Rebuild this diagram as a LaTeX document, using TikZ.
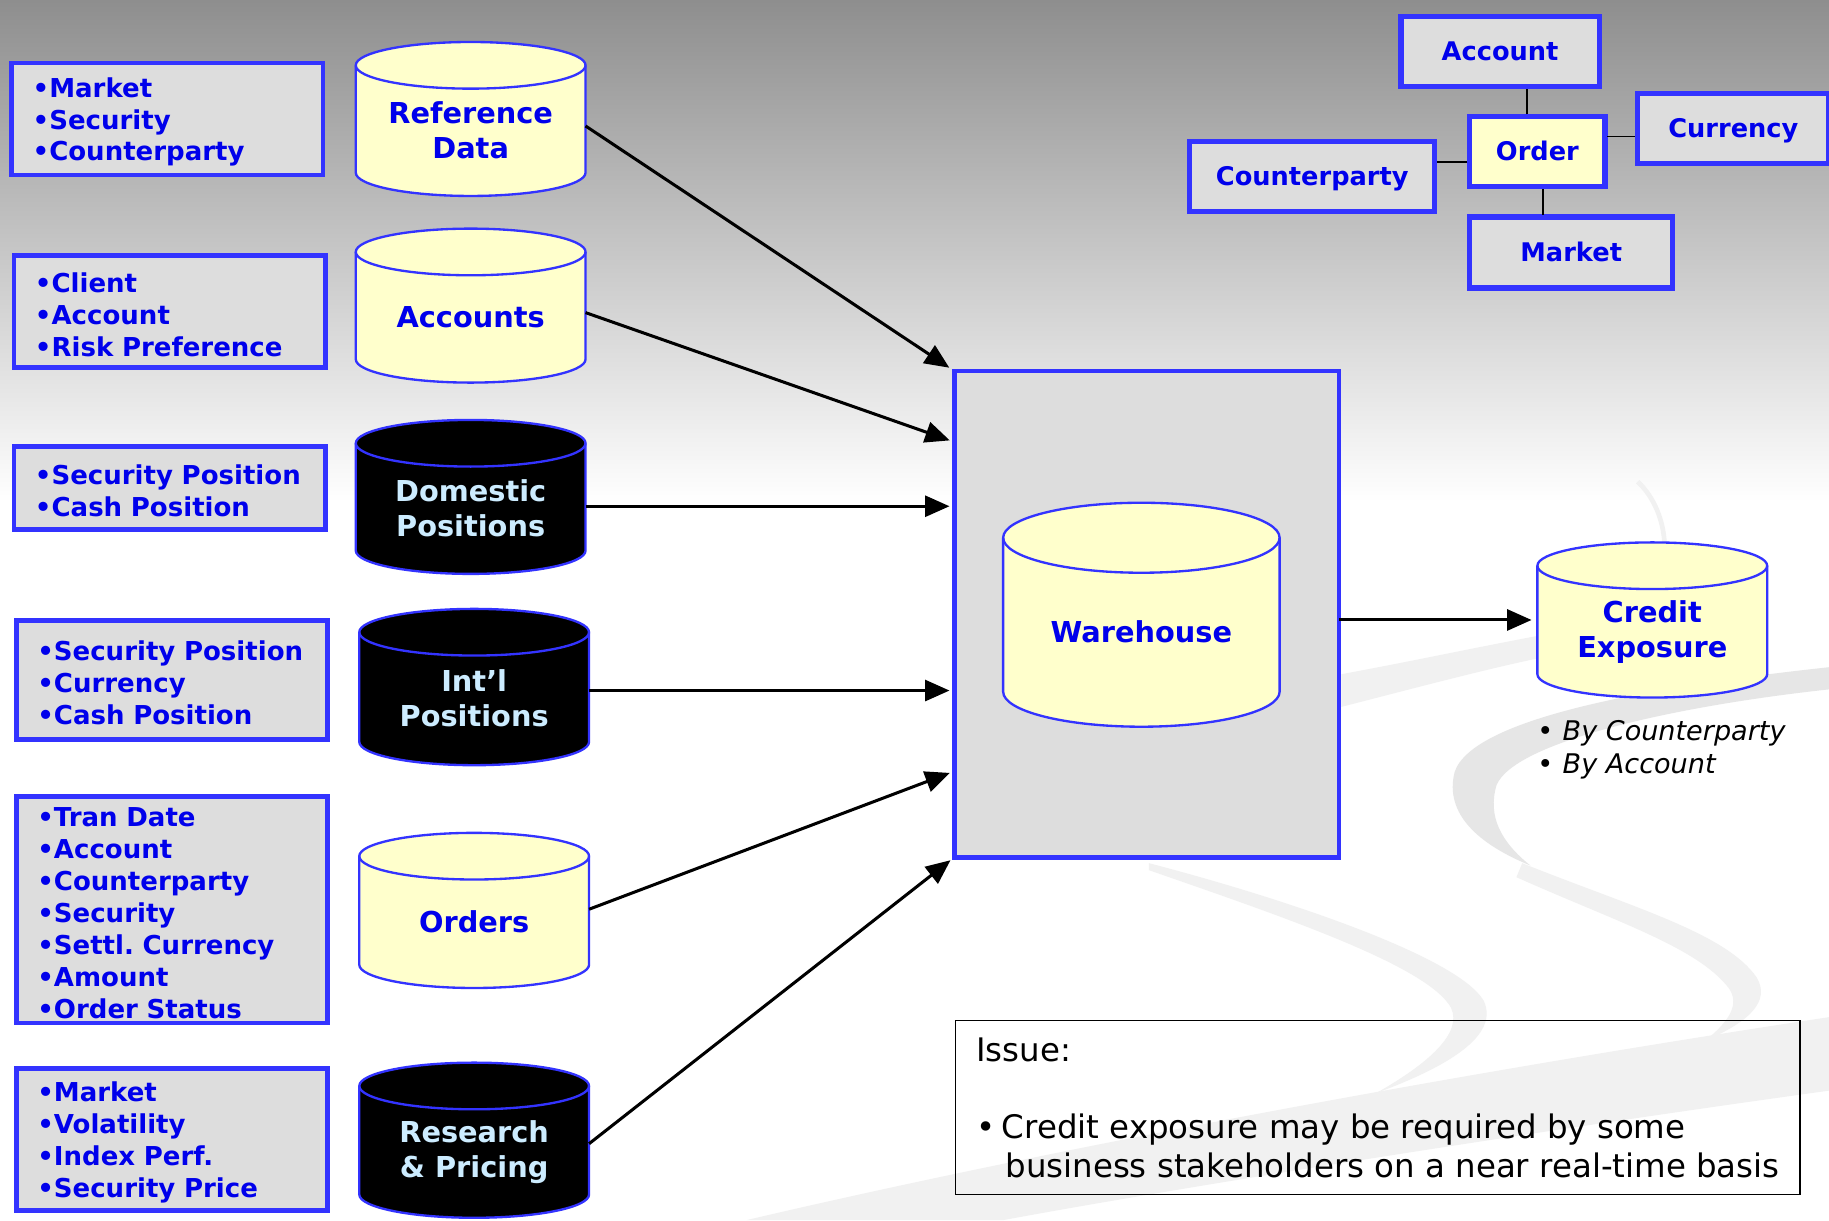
\documentclass[tikz,border=0pt]{standalone}
\usepackage{fontspec}
\setmainfont{DejaVu Sans}[BoldFont={DejaVu Sans Bold},ItalicFont={DejaVu Sans Oblique}]
\usetikzlibrary{arrows.meta,calc}

\definecolor{bgtop}{RGB}{142,142,142}
\definecolor{edgeblue}{RGB}{51,51,255}
\definecolor{inkblue}{RGB}{0,0,235}
\definecolor{boxgray}{RGB}{221,221,221}
\definecolor{dbyellow}{RGB}{255,255,204}
\definecolor{paleblue}{RGB}{204,236,255}
\definecolor{swirl}{RGB}{230,230,230}
\definecolor{swirllight}{RGB}{241,241,241}

\tikzset{
  every node/.style={outer sep=0pt},
  listbox/.style={draw=edgeblue, line width=4pt, fill=boxgray, anchor=north west,
    align=left, text width=231pt, inner xsep=18pt, inner ysep=0pt, text=inkblue,
    font=\fontsize{22.3}{27.4}\selectfont\bfseries},
  entity/.style={draw=edgeblue, line width=4.5pt, fill=boxgray, inner sep=0pt,
    minimum height=60pt, text height=16pt, text depth=0pt, text=inkblue,
    font=\fontsize{22}{26}\selectfont\bfseries},
  drum/.style={draw=edgeblue, line width=2pt, fill=dbyellow, text=inkblue},
  darkdrum/.style={draw=edgeblue, line width=2pt, fill=black, text=paleblue},
  drumlabel/.style={inner sep=0pt, align=center, font=\fontsize{24.7}{30}\selectfont\bfseries},
  flow/.style={line width=2.6pt, -{Triangle[length=21pt,width=18pt]}, shorten >=4pt},
  link/.style={line width=1.6pt, black, shorten >=2pt, shorten <=2pt},
}

% one line of a field list, kept on a single line
\newcommand\srcitem[1]{\mbox{\rule{0pt}{22pt}•#1}}

% database drum: name, centre x, top y, bottom y, half width, end radius, style, label
\newcommand\drum[8]{%
  \path[#7] ({#2-#5},{#3+#6}) -- ({#2-#5},{#4-#6})
     arc[start angle=180,end angle=0,x radius=#5,y radius=#6]
     -- ({#2+#5},{#3+#6})
     arc[start angle=0,end angle=-180,x radius=#5,y radius=#6] -- cycle;
  \draw[#7,fill=none] ({#2-#5},{#3+#6})
     arc[start angle=180,end angle=0,x radius=#5,y radius=#6];
  \node[#7,drumlabel,draw=none,fill=none,minimum width={2*#5},
        minimum height={#4-#3-3*#6}] (#1) at ({#2},{(#3+#4+#6)/2}) {#8};
}

\begin{document}
\begin{tikzpicture}[x=1pt,y=-1pt]
\clip (0,0) rectangle (1568,1046);

% backdrop: grey fading to white, with soft swirls
\fill[top color=bgtop, bottom color=white] (0,0) rectangle (1568,430);
\fill[white] (0,429) rectangle (1568,1046);
\fill[swirllight] (640,1046) .. controls (900,985) and (1250,920) .. (1568,872)
  -- (1568,935) .. controls (1300,972) and (1000,1020) .. (860,1046) -- cycle;
\fill[swirllight] (1150,578) .. controls (1220,565) and (1280,552) .. (1330,543)
  -- (1330,562) .. controls (1280,572) and (1220,588) .. (1150,606) -- cycle;
\fill[swirl] (1568,572) .. controls (1420,588) and (1262,615) .. (1247,662)
  .. controls (1238,698) and (1268,724) .. (1312,742)
  .. controls (1287,722) and (1275,700) .. (1283,673)
  .. controls (1298,637) and (1430,606) .. (1568,591) -- cycle;
\fill[swirllight] (1305,740) .. controls (1400,778) and (1480,800) .. (1506,838)
  .. controls (1518,858) and (1500,876) .. (1462,892)
  .. controls (1482,876) and (1492,861) .. (1482,847)
  .. controls (1455,812) and (1385,790) .. (1300,752) -- cycle;
\fill[swirllight] (985,740) .. controls (1100,770) and (1250,820) .. (1272,858)
  .. controls (1286,888) and (1240,915) .. (1180,937)
  .. controls (1224,912) and (1254,886) .. (1244,864)
  .. controls (1224,828) and (1100,786) .. (985,746) -- cycle;
\draw[swirllight, line width=4pt] (1404,413) .. controls (1418,426) and (1426,446) .. (1427,466);

% field lists of the sources
\node[listbox, minimum height=96pt] (l1) at (10,54)
  {\srcitem{Market}\\\srcitem{Security}\\\srcitem{Counterparty}};
\node[listbox, minimum height=96pt] (l2) at (12,219)
  {\srcitem{Client}\\\srcitem{Account}\\\srcitem{Risk Preference}};
\node[listbox, minimum height=71pt] (l3) at (12,383)
  {\srcitem{Security Position}\\\srcitem{Cash Position}};
\node[listbox, minimum height=102pt] (l4) at (14,532)
  {\srcitem{Security Position}\\\srcitem{Currency}\\\srcitem{Cash Position}};
\node[listbox, minimum height=194pt] (l5) at (14,683)
  {\srcitem{Tran Date}\\\srcitem{Account}\\\srcitem{Counterparty}\\\srcitem{Security}\\
   \srcitem{Settl.\ Currency}\\\srcitem{Amount}\\\srcitem{Order Status}};
\node[listbox, minimum height=122pt] (l6) at (14,916)
  {\srcitem{Market}\\\srcitem{Volatility}\\\srcitem{Index Perf.}\\\srcitem{Security Price}};

% source databases
\drum{ref}{403.5}{36}{168}{98.5}{20}{drum}{Reference\\Data}
\drum{acc}{403.5}{196}{328}{98.5}{20}{drum}{Accounts}
\drum{dom}{403.5}{360}{492}{98.5}{20}{darkdrum}{Domestic\\Positions}
\drum{intl}{406.5}{522}{656}{98.5}{20}{darkdrum}{Int’l\\Positions}
\drum{ord}{406.5}{714}{847}{98.5}{20}{drum}{Orders}
\drum{res}{406.5}{911}{1044}{98.5}{20}{darkdrum}{Research\\\& Pricing}

% warehouse
\node[draw=edgeblue, line width=4pt, fill=boxgray, minimum width=330pt,
      minimum height=417pt, inner sep=0pt] (whbox) at (983,526.5) {};
\drum{wh}{978.5}{431}{623}{118.5}{30}{drum}{Warehouse}

% credit exposure output
\drum{credit}{1416.5}{465}{598}{98.5}{20}{drum}{Credit\\Exposure}
\node[anchor=north west, inner sep=0pt, align=left,
      font=\fontsize{23.2}{28}\selectfont] (byl) at (1318,617.5)
  {•\hspace{8pt}\textit{By Counterparty}\\•\hspace{8pt}\textit{By Account}};

% feeds into the warehouse
\coordinate (refout) at ([yshift=4pt]ref.east);
\coordinate (accout) at ([yshift=4pt]acc.east);
\coordinate (domout) at ([yshift=2pt]dom.east);
\coordinate (intlout) at ([yshift=7pt]intl.east);
\coordinate (ordout) at ([yshift=11pt]ord.east);
\coordinate (resout) at ([yshift=7pt]res.east);
\draw[flow, shorten >=5pt] (refout) -- (whbox.north west);
\draw[flow] (accout) -- ($(whbox.north west)!0.146!(whbox.south west)$);
\draw[flow] (domout) -- (domout -| whbox.west);
\draw[flow] (intlout) -- (intlout -| whbox.west);
\draw[flow] (ordout) -- ($(whbox.north west)!0.823!(whbox.south west)$);
\draw[flow] (resout) -- (whbox.south west);
\coordinate (credin) at ([yshift=10pt]credit.west);
\draw[flow, shorten >=5pt] (whbox.east |- credin) -- (credin);

% order data model
\node[entity, minimum width=170pt] (acct) at (1286,44) {Account};
\node[entity, fill=dbyellow, minimum width=116pt] (order) at (1318,130) {Order};
\node[entity, minimum width=164pt] (curr) at (1486,110) {Currency};
\node[entity, minimum width=210pt] (cpty) at (1125,151) {Counterparty};
\node[entity, minimum width=174pt, minimum height=61pt] (mkt) at (1347,216.5) {Market};
\coordinate (oacct) at ([xshift=-9pt]order.north);
\coordinate (ocurr) at ([yshift=13pt]order.east);
\coordinate (ocpty) at ([yshift=-9pt]order.west);
\coordinate (omkt) at ([xshift=5pt]order.south);
\draw[link] (oacct) -- (oacct |- acct.south);
\draw[link] (ocurr) -- (ocurr -| curr.west);
\draw[link] (ocpty) -- (ocpty -| cpty.east);
\draw[link] (omkt) -- (omkt |- mkt.north);

% issue note
\node[draw=black, line width=1.2pt, minimum width=724pt, minimum height=149pt,
      inner sep=0pt] (issue) at (1181,949.5) {};
\node[anchor=north west, inner sep=0pt, align=left,
      font=\fontsize{27.8}{33}\selectfont] (issuetxt)
  at ([xshift=18pt,yshift=-15pt]issue.north west)
  {Issue:\\[33pt]\makebox[22pt][l]{•}Credit exposure may be required by some\\
   \hspace*{25pt}business stakeholders on a near real-time basis};
\end{tikzpicture}
\end{document}
